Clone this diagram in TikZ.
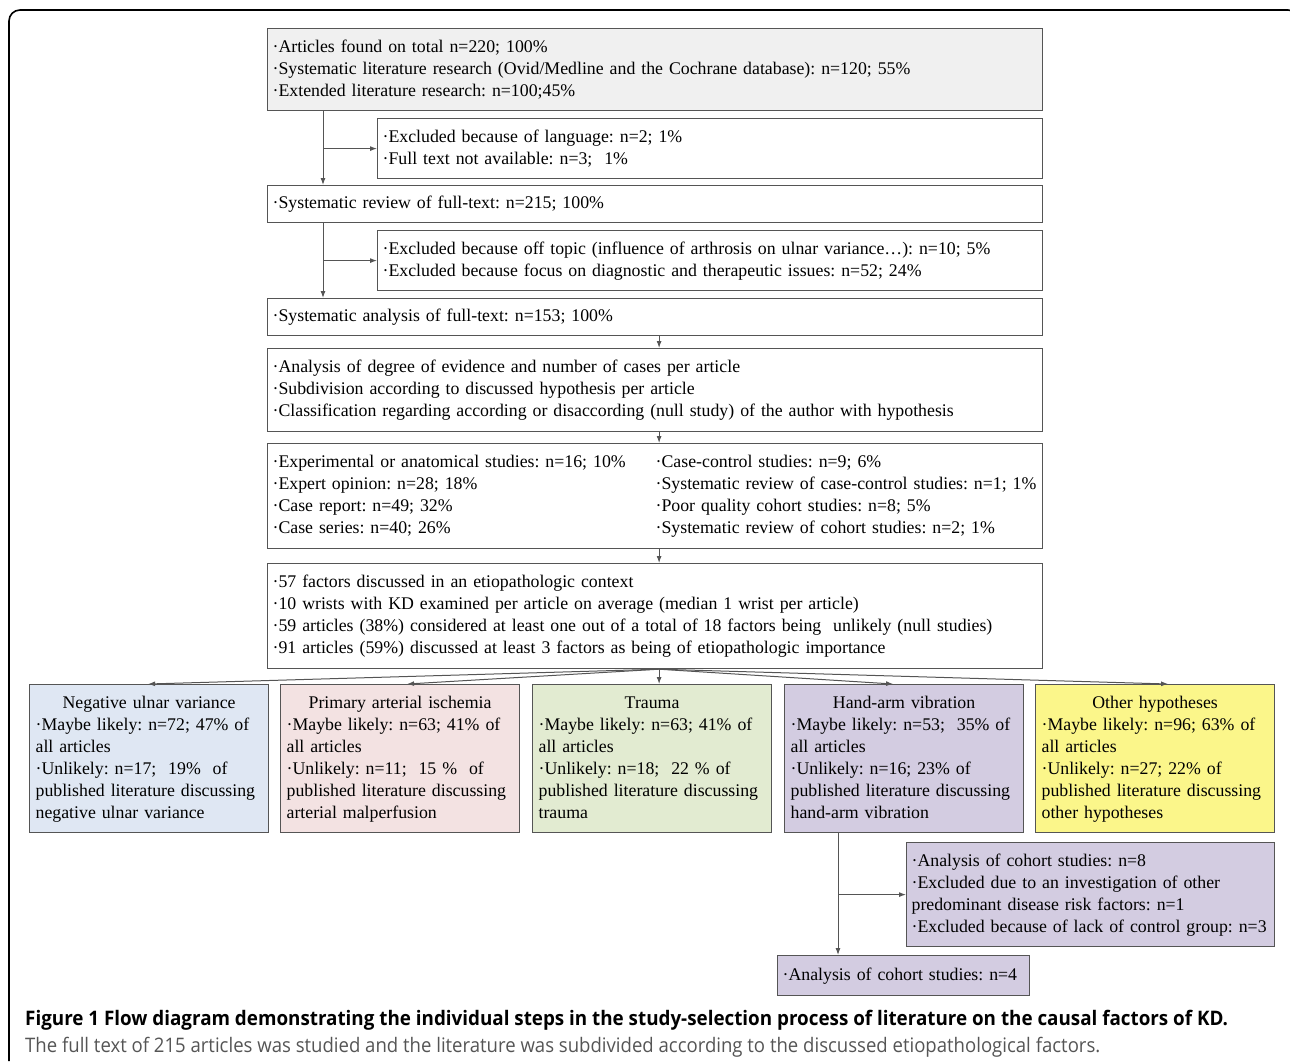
\documentclass[tikz,border=0pt]{standalone}
\usepackage{fontspec}
\setmainfont{Liberation Serif}
\newfontfamily\capfont{Open Sans}
\usetikzlibrary{arrows.meta}
\frenchspacing

\definecolor{linegray}{RGB}{85,85,85}
\definecolor{boxgray}{RGB}{240,240,240}
\definecolor{ulnarblue}{RGB}{223,231,243}
\definecolor{ischpink}{RGB}{243,226,226}
\definecolor{traugreen}{RGB}{226,235,209}
\definecolor{vibpurple}{RGB}{211,204,225}
\definecolor{othyellow}{RGB}{251,246,138}
\definecolor{capgray}{RGB}{85,85,85}

\begin{document}
\begin{tikzpicture}[x=1pt,y=1pt,yscale=-1,
  box/.style={draw=linegray, line width=1.2, anchor=north west, align=left,
    inner xsep=5, inner ysep=0, text width=765,
    font=\fontsize{17.8}{22}\selectfont,
    execute at begin node=\strut, execute at end node=\strut},
  exclbox/.style={box, text width=655},
  hypbox/.style={box, inner xsep=6, text width=227, minimum height=148},
  arr/.style={draw=linegray, line width=1, -{Latex[length=7,width=5]}}]
\useasboundingbox (0,0) rectangle (1290,1061);

%Frame
\draw[line width=1.6, rounded corners=11] (9,1061) -- (9,10) -- (1299,10) -- (1299,1061);

%Main column
\node[box, fill=boxgray, minimum height=82] (found) at (267,28)
  {·Articles found on total n=220; 100\%\\
   ·Systematic literature research (Ovid/Medline and the Cochrane database): n=120; 55\%\\
   ·Extended literature research: n=100;45\%};
\node[exclbox, minimum height=60] (excllang) at (377,118)
  {·Excluded because of language: n=2; 1\%\\
   ·Full text not available: n=3;\ \ 1\%};
\node[box, minimum height=37] (review) at (267,185)
  {·Systematic review of full-text: n=215; 100\%};
\node[exclbox, minimum height=60] (excltopic) at (377,230)
  {·Excluded because off topic (influence of arthrosis on ulnar variance…): n=10; 5\%\\
   ·Excluded because focus on diagnostic and therapeutic issues: n=52; 24\%};
\node[box, minimum height=37] (analysis) at (267,298)
  {·Systematic analysis of full-text: n=153; 100\%};
\node[box, minimum height=83] (degree) at (267,348)
  {·Analysis of degree of evidence and number of cases per article\\
   ·Subdivision according to discussed hypothesis per article\\
   ·Classification regarding according or disaccording (null study) of the author with hypothesis};
\node[box, minimum height=105] (levels) at (267,443)
  {\begin{tabular}{@{}p{383pt}@{}l@{}}
   ·Experimental or anatomical studies: n=16; 10\% & ·Case-control studies: n=9; 6\%\\
   ·Expert opinion: n=28; 18\% & ·Systematic review of case-control studies: n=1; 1\%\\
   ·Case report: n=49; 32\% & ·Poor quality cohort studies: n=8; 5\%\\
   ·Case series: n=40; 26\% & ·Systematic review of cohort studies: n=2; 1\%
   \end{tabular}};
\node[box, minimum height=105] (factors) at (267,563)
  {·57 factors discussed in an etiopathologic context\\
   ·10 wrists with KD examined per article on average (median 1 wrist per article)\\
   ·59 articles (38\%) considered at least one out of a total of 18 factors being\ \ unlikely (null studies)\\
   ·91 articles (59\%) discussed at least 3 factors as being of etiopathologic importance};

%Hypotheses
\node[hypbox, fill=ulnarblue] (ulnar) at (29,684)
  {\makebox[227pt]{Negative ulnar variance}\\
   ·Maybe likely: n=72; 47\% of\\ all articles\\
   ·Unlikely: n=17;\ \ 19\%\ \ of\\ published literature discussing\\ negative ulnar variance};
\node[hypbox, fill=ischpink] (ischemia) at (280,684)
  {\makebox[227pt]{Primary arterial ischemia}\\
   ·Maybe likely: n=63; 41\% of\\ all articles\\
   ·Unlikely: n=11;\ \ 15 \%\ \ of\\ published literature discussing\\ arterial malperfusion};
\node[hypbox, fill=traugreen] (trauma) at (532,684)
  {\makebox[227pt]{Trauma}\\
   ·Maybe likely: n=63; 41\% of\\ all articles\\
   ·Unlikely: n=18;\ \ 22 \% of\\ published literature discussing\\ trauma};
\node[hypbox, fill=vibpurple] (vibration) at (784,684)
  {\makebox[227pt]{Hand-arm vibration}\\
   ·Maybe likely: n=53;\ \ 35\% of\\ all articles\\
   ·Unlikely: n=16; 23\% of\\ published literature discussing\\ hand-arm vibration};
\node[hypbox, fill=othyellow] (other) at (1035,684)
  {\makebox[227pt]{Other hypotheses}\\
   ·Maybe likely: n=96; 63\% of\\ all articles\\
   ·Unlikely: n=27; 22\% of\\ published literature discussing\\ other hypotheses};

%Cohort studies
\node[box, fill=vibpurple, text width=358, minimum height=104] (cohorteight) at (906,842)
  {·Analysis of cohort studies: n=8\\
   ·Excluded due to an investigation of other\\ predominant disease risk factors: n=1\\
   ·Excluded because of lack of control group: n=3};
\node[box, fill=vibpurple, text width=242, minimum height=40] (cohortfour) at (777,955)
  {·Analysis of cohort studies: n=4};

%Arrows
\draw[arr] ([xshift=56]found.south west) -- ([xshift=56]found.south west |- review.north);
\draw[arr] ([xshift=56]found.south west |- excllang.west) -- (excllang.west);
\draw[arr] ([xshift=56]review.south west) -- ([xshift=56]review.south west |- analysis.north);
\draw[arr] ([xshift=56]review.south west |- excltopic.west) -- (excltopic.west);
\draw[arr] ([xshift=4]analysis.south) -- ([xshift=4]degree.north);
\draw[arr] ([xshift=4]degree.south) -- ([xshift=4]levels.north);
\draw[arr] ([xshift=4]levels.south) -- ([xshift=4]factors.north);
\foreach \hyp/\dx in {ulnar/-1,ischemia/7,trauma/7,vibration/-11,other/13}
  \draw[arr] ([xshift=4]factors.south) -- ([xshift=\dx]\hyp.north);
\draw[arr] ([xshift=54]vibration.south west) -- ([xshift=54]vibration.south west |- cohortfour.north);
\draw[arr] ([xshift=54]vibration.south west |- cohorteight.west) -- (cohorteight.west);

%Caption
\node[anchor=west, inner sep=0] (figtitle) at (25,1020)
  {\resizebox{1203pt}{\height}{\capfont\fontsize{20}{24}\selectfont\bfseries Figure 1 Flow diagram demonstrating the individual steps in the study-selection process of literature on the causal factors of KD.}};
\node[anchor=west, inner sep=0, text=capgray] (figtext) at (25,1047)
  {\resizebox{1075pt}{\height}{\capfont\fontsize{20}{24}\selectfont The full text of 215 articles was studied and the literature was subdivided according to the discussed etiopathological factors.}};

\end{tikzpicture}
\end{document}
